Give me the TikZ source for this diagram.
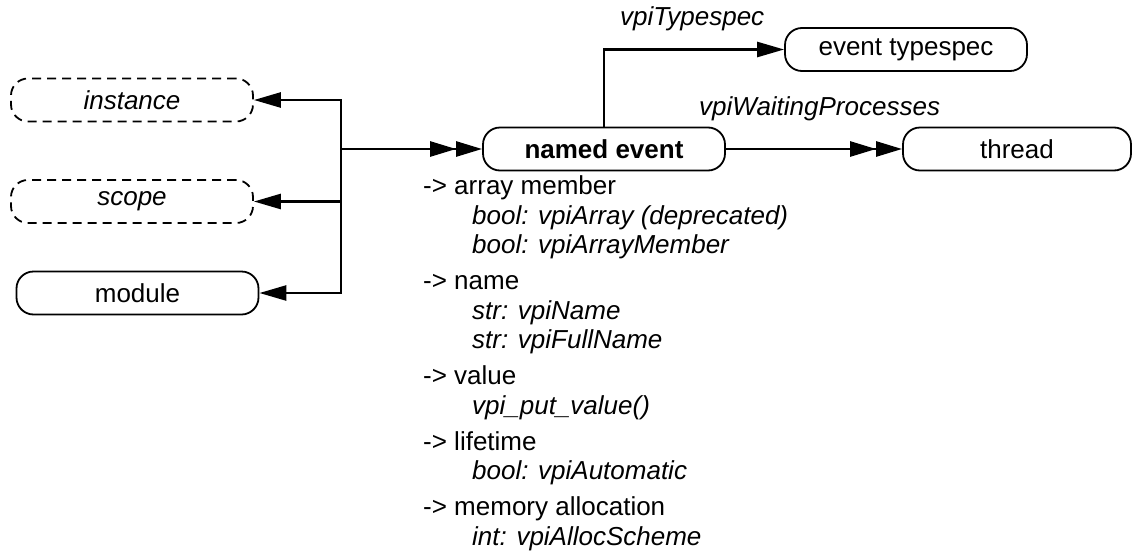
\documentclass[tikz,border=0pt]{standalone}
\usepackage{fontspec}
\setmainfont{Liberation Sans}
\usetikzlibrary{arrows.meta}

\begin{document}
\begin{tikzpicture}[x=1pt,y=-1pt,
  font=\fontsize{26}{29.5}\selectfont,
  obj/.style={draw,line width=1.8pt,rounded corners=17pt,minimum width=242pt,minimum height=43pt,inner sep=0pt},
  ghost/.style={obj,dash pattern=on 9pt off 6pt,font=\fontsize{26}{29.5}\selectfont\itshape},
  one/.style={line width=2.6pt,-{Triangle[length=27pt,width=15pt]}},
  many/.style={line width=2.6pt,-{Triangle[length=26pt,width=15pt]Triangle[length=26pt,width=15pt]}},
  lbl/.style={anchor=base west,inner sep=0pt,font=\fontsize{26}{29.5}\selectfont\itshape}]
     \useasboundingbox (0,0) rectangle (1133,552);
     \node[ghost] (inst) at (132,100) {instance};
     \node[ghost] (scope) at (132,201.5) {scope};
     \node[obj] (mod) at (137.5,293) {module};
     \node[obj] (event) at (604,149) {\bfseries named event};
     \node[obj] (tspec) at (906,49.5) {event typespec};
     \node[obj,minimum width=228pt] (thread) at (1017,149) {thread};
     \coordinate (fork) at (341,149);
     \node[lbl] (tlabel) at (620,25) {vpiTypespec};
     \node[lbl] (wlabel) at (699,115) {vpiWaitingProcesses};
     % properties under the object (base = last line)
     \node[anchor=base west,inner sep=0pt,align=left] (props) at (423,545) {%
       -> array member\\
       \hspace*{49pt}\textit{bool: vpiArray (deprecated)}\\
       \hspace*{49pt}\textit{bool: vpiArrayMember}\\[6.5pt]
       -> name\\
       \hspace*{49pt}\textit{str: vpiName}\\
       \hspace*{49pt}\textit{str: vpiFullName}\\[6.5pt]
       -> value\\
       \hspace*{49pt}\textit{vpi\_put\_value()}\\[6.5pt]
       -> lifetime\\
       \hspace*{49pt}\textit{bool: vpiAutomatic}\\[6.5pt]
       -> memory allocation\\
       \hspace*{49pt}\textit{int: vpiAllocScheme}};
     \draw[many] (fork) -- (event);
     \draw[one] (fork) |- (inst);
     \draw[one] (fork) |- (scope);
     \draw[one] (fork) |- (mod);
     \draw[one] (event.north) |- (tspec);
     \draw[many] (event) -- (thread);
\end{tikzpicture}
\end{document}
